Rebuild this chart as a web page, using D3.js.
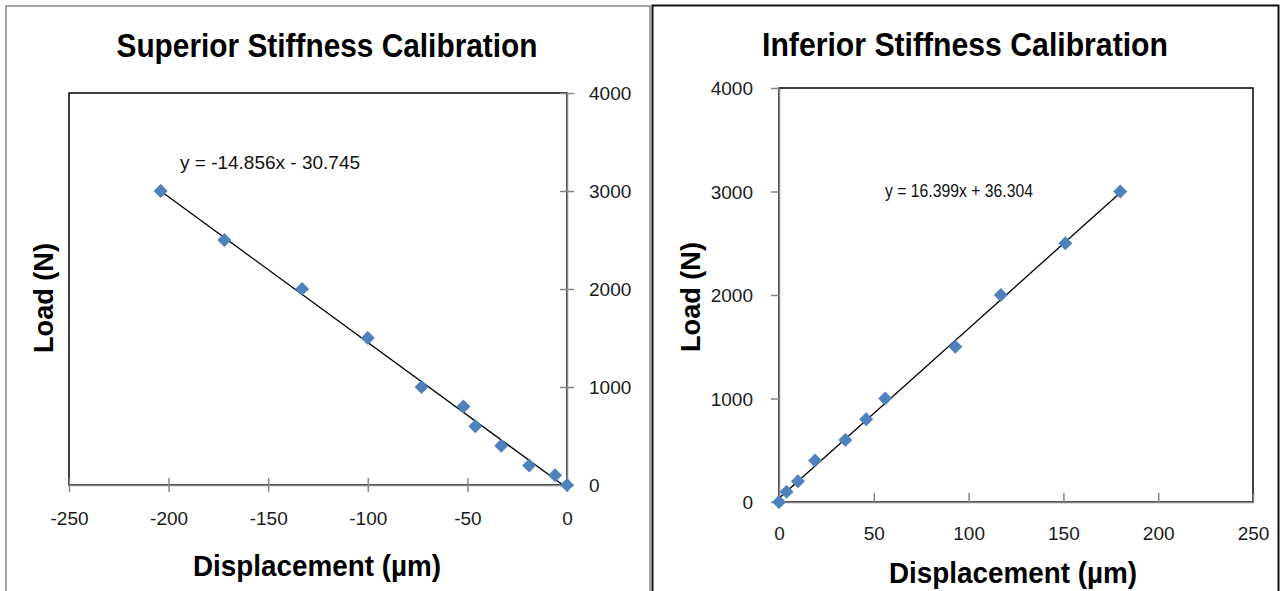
<html>
<head>
<meta charset="utf-8">
<script src="https://cdn.jsdelivr.net/npm/d3@7"></script>
<style>
  body { margin: 0; background: #fff; }
  text { font-family: "Liberation Sans", Arial, sans-serif; }
</style>
</head>
<body>
<svg id="chart" width="1281" height="591"></svg>
<script>
// superior calibration (displacement in um, load in N)
const supDisp = [-204, -172, -133, -100, -73, -52, -46, -33, -19, -6, 0];
const supLoad = [3000, 2500, 2000, 1500, 1000, 800, 600, 400, 200, 100, 0];
const supFit = {slope: -14.856, icpt: -30.745, label: 'y = -14.856x - 30.745'};

// inferior calibration
const infDisp = [0, 4, 10, 19, 35, 46, 56, 93, 117, 151, 180];
const infLoad = [0, 100, 200, 400, 600, 800, 1000, 1500, 2000, 2500, 3000];
const infFit = {slope: 16.399, icpt: 36.304, label: 'y = 16.399x + 36.304'};

const supXTicks = [-250, -200, -150, -100, -50, 0];
const infXTicks = [0, 50, 100, 150, 200, 250];
const loadTicks = [0, 1000, 2000, 3000, 4000];

const svg = d3.select('#chart');
const grey = '#868686';
const blue = '#4F81BD';
const fmt = d => String(d);   // plain hyphen minus, no thousands comma

// panel frames
svg.append('rect').attr('x', 6).attr('y', 6).attr('width', 644).attr('height', 600)
    .attr('fill', 'none').attr('stroke', grey).attr('stroke-width', 1.5);
svg.append('rect').attr('x', 652.5).attr('y', 5.5).attr('width', 626).attr('height', 600)
    .attr('fill', 'none').attr('stroke', '#111').attr('stroke-width', 2);

function diamond(g, x, y, xs, ys) {
    g.selectAll('path.pt')
        .data(xs.map((d, i) => [d, ys[i]]))
        .enter().append('path')
            .attr('class', 'pt')
            .attr('d', d3.symbol().type(d3.symbolDiamond2).size(125))
            .attr('transform', d => `translate(${x(d[0])},${y(d[1])})`)
            .attr('fill', blue);
}

function trend(g, x, y, xs, fit) {
    const ext = d3.extent(xs);
    g.append('line')
        .attr('x1', x(ext[0])).attr('y1', y(fit.slope * ext[0] + fit.icpt))
        .attr('x2', x(ext[1])).attr('y2', y(fit.slope * ext[1] + fit.icpt))
        .attr('stroke', '#000').attr('stroke-width', 1.3);
}

function styleAxis(g) {
    g.attr('font-size', 19).attr('font-family', '"Liberation Sans", Arial, sans-serif');
    g.select('.domain').attr('stroke', grey).attr('stroke-width', 1.5);
    g.selectAll('.tick line').attr('stroke', grey).attr('stroke-width', 1.5);
    g.selectAll('.tick text').attr('fill', '#1a1a1a').style('font-size', '19px');
}

// ---------- left: superior ----------
{
    const x = d3.scaleLinear().domain([-250, 0]).range([69, 567]);
    const y = d3.scaleLinear().domain([0, 4000]).range([485, 93]);
    const g = svg.append('g');

    g.append('rect').attr('x', 69).attr('y', 93).attr('width', 498).attr('height', 392)
        .attr('fill', 'none').attr('stroke', '#000').attr('stroke-width', 1.5);

    const xa = g.append('g').attr('transform', 'translate(0,485)')
        .call(d3.axisBottom(x).tickValues(supXTicks).tickFormat(fmt)
            .tickSize(7).tickSizeOuter(0).tickPadding(20));
    xa.selectAll('.tick line').attr('y1', -7);
    styleAxis(xa);

    const ya = g.append('g').attr('transform', 'translate(567,0)')
        .call(d3.axisRight(y).tickValues(loadTicks).tickFormat(fmt)
            .tickSize(7).tickSizeOuter(0).tickPadding(15));
    ya.selectAll('.tick line').attr('x1', -7);
    ya.selectAll('.tick text').attr('dy', '0.35em');
    styleAxis(ya);

    trend(g, x, y, supDisp, supFit);
    diamond(g, x, y, supDisp, supLoad);

    g.append('text').attr('x', 180).attr('y', 169).text(supFit.label)
        .style('font-size', '19px').attr('fill', '#111')
        .attr('textLength', 180).attr('lengthAdjust', 'spacingAndGlyphs');

    g.append('text').attr('x', 327).attr('y', 57).attr('text-anchor', 'middle')
        .text('Superior Stiffness Calibration')
        .style('font-weight', 'bold').style('font-size', '34px')
        .attr('textLength', 421).attr('lengthAdjust', 'spacingAndGlyphs');

    g.append('text').attr('x', 317).attr('y', 576).attr('text-anchor', 'middle')
        .text('Displacement (µm)')
        .style('font-weight', 'bold').style('font-size', '30px')
        .attr('textLength', 248).attr('lengthAdjust', 'spacingAndGlyphs');

    g.append('text').attr('transform', 'translate(53,298) rotate(-90)').attr('text-anchor', 'middle')
        .text('Load (N)').style('font-weight', 'bold').style('font-size', '27px')
        .attr('textLength', 110).attr('lengthAdjust', 'spacingAndGlyphs');
}

// ---------- right: inferior ----------
{
    const x = d3.scaleLinear().domain([0, 250]).range([779, 1253]);
    const y = d3.scaleLinear().domain([0, 4000]).range([502, 88]);
    const g = svg.append('g');

    g.append('rect').attr('x', 779).attr('y', 88).attr('width', 474).attr('height', 414)
        .attr('fill', 'none').attr('stroke', '#000').attr('stroke-width', 1.5);

    const xa = g.append('g').attr('transform', 'translate(0,502)')
        .call(d3.axisBottom(x).tickValues(infXTicks).tickFormat(fmt)
            .tickSize(9).tickSizeOuter(0).tickPadding(16));
    xa.selectAll('.tick line').attr('y1', -9).attr('y2', 0);
    styleAxis(xa);

    const ya = g.append('g').attr('transform', 'translate(779,0)')
        .call(d3.axisLeft(y).tickValues(loadTicks).tickFormat(fmt)
            .tickSize(8).tickSizeOuter(0).tickPadding(18));
    ya.selectAll('.tick text').attr('dy', '0.35em');
    styleAxis(ya);

    trend(g, x, y, infDisp, infFit);
    diamond(g, x, y, infDisp, infLoad);

    g.append('text').attr('x', 885).attr('y', 197).text(infFit.label)
        .style('font-size', '19px').attr('fill', '#111')
        .attr('textLength', 148).attr('lengthAdjust', 'spacingAndGlyphs');

    g.append('text').attr('x', 965).attr('y', 56).attr('text-anchor', 'middle')
        .text('Inferior Stiffness Calibration')
        .style('font-weight', 'bold').style('font-size', '34px')
        .attr('textLength', 406).attr('lengthAdjust', 'spacingAndGlyphs');

    g.append('text').attr('x', 1013).attr('y', 583).attr('text-anchor', 'middle')
        .text('Displacement (µm)')
        .style('font-weight', 'bold').style('font-size', '30px')
        .attr('textLength', 248).attr('lengthAdjust', 'spacingAndGlyphs');

    g.append('text').attr('transform', 'translate(700,297) rotate(-90)').attr('text-anchor', 'middle')
        .text('Load (N)').style('font-weight', 'bold').style('font-size', '27px')
        .attr('textLength', 110).attr('lengthAdjust', 'spacingAndGlyphs');
}
</script>
</body>
</html>
